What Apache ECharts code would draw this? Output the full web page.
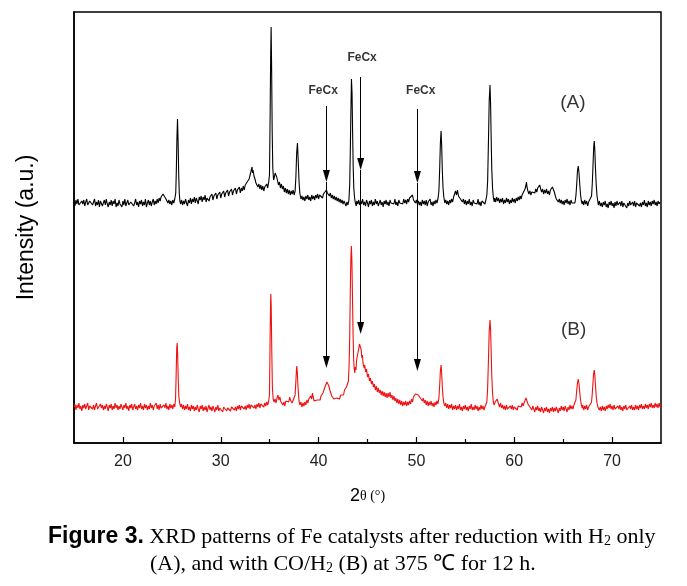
<!DOCTYPE html>
<html>
<head>
<meta charset="utf-8">
<script src="https://cdn.jsdelivr.net/npm/echarts@6/dist/echarts.min.js"></script>
<style>html,body{margin:0;padding:0;background:#fff}#c{width:687px;height:586px}</style>
</head>
<body>
<div id="c"></div>
<script>
// ---- data: [2θ (degrees), intensity (a.u.)] ----
var patternA = [[15.0,241],[15.1,237],[15.2,243],[15.3,239],[15.4,244],[15.5,238],[15.6,240],[15.7,236],[15.8,242],[15.9,239],[16.0,243],[16.1,237],[16.2,241],[16.3,244],[16.4,238],[16.5,236],[16.6,242],[16.7,240],[16.8,243],[16.9,238],[17.0,239],[17.1,244],[17.2,237],[17.3,241],[17.4,238],[17.5,243],[17.6,236],[17.7,242],[17.8,241],[17.9,237],[18.0,240],[18.1,243],[18.2,238],[18.3,244],[18.4,239],[18.5,236],[18.6,241],[18.7,238],[18.8,243],[18.9,237],[19.0,242],[19.1,239],[19.2,244],[19.3,236],[19.4,240],[19.5,237],[19.6,243],[19.7,239],[19.8,241],[19.9,236],[20.0,242],[20.1,238],[20.2,244],[20.3,237],[20.4,240],[20.5,243],[20.6,238],[20.7,236],[20.8,241],[20.9,239],[21.0,243],[21.1,237],[21.2,240],[21.3,244],[21.4,238],[21.5,241],[21.6,236],[21.7,242],[21.8,239],[21.9,243],[22.0,237],[22.1,241],[22.2,238],[22.3,244],[22.4,236],[22.5,240],[22.6,243],[22.7,238],[22.8,242],[22.9,237],[23.0,241],[23.1,244],[23.2,238],[23.3,242],[23.4,239],[23.5,244],[23.6,240],[23.7,245],[23.8,242],[23.9,246],[24.0,245],[24.1,249],[24.2,247],[24.3,250],[24.4,244],[24.5,246],[24.6,240],[24.7,243],[24.8,239],[24.9,242],[25.0,238],[25.1,243],[25.2,240],[25.3,244],[25.4,250],[25.46,272],[25.52,305],[25.58,324],[25.64,302],[25.7,270],[25.76,250],[25.82,242],[25.9,239],[26.0,243],[26.1,238],[26.2,242],[26.3,239],[26.4,244],[26.5,240],[26.6,237],[26.7,243],[26.8,240],[26.9,245],[27.0,239],[27.1,244],[27.2,241],[27.3,246],[27.4,240],[27.5,245],[27.6,242],[27.7,239],[27.8,246],[27.9,243],[28.0,247],[28.1,241],[28.2,246],[28.3,243],[28.4,248],[28.5,241],[28.6,245],[28.7,247],[28.8,242],[28.9,246],[29.0,244],[29.1,249],[29.2,243],[29.3,247],[29.4,245],[29.5,250],[29.6,244],[29.7,248],[29.8,246],[29.9,251],[30.0,245],[30.1,249],[30.2,247],[30.3,252],[30.4,246],[30.5,250],[30.6,248],[30.7,253],[30.8,247],[30.9,251],[31.0,249],[31.1,254],[31.2,248],[31.3,252],[31.4,250],[31.5,255],[31.6,249],[31.7,253],[31.8,251],[31.9,256],[32.0,250],[32.1,255],[32.2,252],[32.3,257],[32.4,253],[32.5,258],[32.6,256],[32.7,261],[32.8,259],[32.9,264],[33.0,266],[33.1,272],[33.2,276],[33.25,270],[33.3,273],[33.4,267],[33.5,264],[33.6,260],[33.7,262],[33.8,256],[33.9,259],[34.0,254],[34.1,258],[34.2,253],[34.3,257],[34.4,252],[34.5,256],[34.6,254],[34.7,259],[34.8,255],[34.9,261],[34.98,268],[35.05,330],[35.1,385],[35.15,416],[35.2,375],[35.26,310],[35.32,275],[35.4,263],[35.48,266],[35.56,270],[35.64,272],[35.72,266],[35.8,264],[35.9,258],[36.0,261],[36.1,255],[36.2,259],[36.3,254],[36.4,257],[36.5,251],[36.6,255],[36.7,250],[36.8,254],[36.9,249],[37.0,253],[37.1,248],[37.2,252],[37.3,249],[37.4,253],[37.5,248],[37.6,252],[37.68,266],[37.76,290],[37.84,300],[37.92,282],[38.0,262],[38.08,250],[38.2,244],[38.3,247],[38.4,243],[38.5,246],[38.6,242],[38.7,247],[38.8,244],[38.9,248],[39.0,243],[39.1,246],[39.2,242],[39.3,248],[39.4,244],[39.5,247],[39.6,243],[39.7,248],[39.8,245],[39.9,249],[40.0,244],[40.1,248],[40.2,246],[40.3,250],[40.4,245],[40.5,249],[40.6,251],[40.7,248],[40.8,253],[40.9,250],[41.0,252],[41.1,247],[41.2,250],[41.3,245],[41.4,248],[41.5,244],[41.6,247],[41.7,243],[41.8,246],[41.9,242],[42.0,245],[42.1,241],[42.2,244],[42.3,240],[42.4,243],[42.5,239],[42.6,242],[42.7,240],[42.8,237],[42.9,241],[43.0,238],[43.1,243],[43.18,258],[43.24,290],[43.3,330],[43.36,364],[43.42,350],[43.48,310],[43.54,275],[43.6,255],[43.68,245],[43.76,240],[43.85,237],[43.9,242],[44.0,239],[44.1,243],[44.2,238],[44.3,242],[44.4,239],[44.5,244],[44.6,238],[44.7,241],[44.8,237],[44.9,243],[45.0,240],[45.1,236],[45.2,242],[45.3,239],[45.4,243],[45.5,237],[45.6,241],[45.7,238],[45.8,244],[45.9,239],[46.0,242],[46.1,237],[46.2,240],[46.3,243],[46.4,238],[46.5,241],[46.6,236],[46.7,242],[46.8,239],[46.9,243],[47.0,238],[47.1,241],[47.2,237],[47.3,243],[47.4,240],[47.5,238],[47.6,242],[47.7,239],[47.8,244],[47.9,238],[48.0,241],[48.1,237],[48.2,243],[48.3,240],[48.4,238],[48.5,242],[48.6,239],[48.7,244],[48.8,240],[48.9,243],[49.0,239],[49.1,244],[49.2,241],[49.3,245],[49.4,247],[49.5,244],[49.6,248],[49.7,243],[49.8,245],[49.9,240],[50.0,243],[50.1,239],[50.2,242],[50.3,238],[50.4,241],[50.5,237],[50.6,243],[50.7,239],[50.8,242],[50.9,238],[51.0,243],[51.1,237],[51.2,241],[51.3,239],[51.4,244],[51.5,238],[51.6,241],[51.7,237],[51.8,242],[51.9,239],[52.0,243],[52.1,240],[52.2,244],[52.3,252],[52.38,275],[52.45,300],[52.52,312],[52.58,298],[52.65,272],[52.72,255],[52.8,246],[52.9,240],[53.0,243],[53.1,239],[53.2,242],[53.3,238],[53.4,243],[53.5,240],[53.6,244],[53.7,241],[53.8,246],[53.9,249],[54.0,252],[54.1,248],[54.2,253],[54.3,247],[54.4,249],[54.5,244],[54.6,246],[54.7,241],[54.8,244],[54.9,239],[55.0,243],[55.1,238],[55.2,242],[55.3,239],[55.4,244],[55.5,238],[55.6,241],[55.7,237],[55.8,243],[55.9,240],[56.0,238],[56.1,242],[56.2,239],[56.3,244],[56.4,238],[56.5,241],[56.6,237],[56.7,242],[56.8,240],[56.9,244],[57.0,239],[57.1,243],[57.2,248],[57.28,262],[57.36,300],[57.44,342],[57.52,358],[57.58,340],[57.64,305],[57.7,275],[57.78,255],[57.86,246],[57.95,241],[58.0,245],[58.1,241],[58.2,246],[58.3,242],[58.4,245],[58.5,240],[58.6,244],[58.7,241],[58.8,245],[58.9,239],[59.0,243],[59.1,240],[59.2,245],[59.3,241],[59.4,244],[59.5,239],[59.6,243],[59.7,240],[59.8,245],[59.9,241],[60.0,244],[60.1,240],[60.2,245],[60.3,242],[60.4,246],[60.5,243],[60.6,247],[60.7,244],[60.8,248],[60.9,246],[61.0,250],[61.1,254],[61.2,258],[61.25,261],[61.3,256],[61.4,252],[61.5,249],[61.6,252],[61.7,248],[61.8,251],[61.9,249],[62.0,253],[62.1,250],[62.2,254],[62.3,251],[62.4,255],[62.5,253],[62.6,258],[62.7,254],[62.8,251],[62.9,254],[63.0,249],[63.1,253],[63.2,250],[63.3,254],[63.4,249],[63.5,252],[63.6,248],[63.7,253],[63.8,251],[63.9,256],[64.0,257],[64.1,251],[64.2,247],[64.3,244],[64.4,246],[64.5,241],[64.6,244],[64.7,240],[64.8,243],[64.9,239],[65.0,242],[65.1,238],[65.2,243],[65.3,240],[65.4,244],[65.5,239],[65.6,242],[65.7,238],[65.8,243],[65.9,240],[66.0,238],[66.1,242],[66.2,240],[66.3,247],[66.38,258],[66.46,272],[66.54,277],[66.62,270],[66.7,258],[66.78,248],[66.86,242],[66.95,239],[67.0,242],[67.1,238],[67.2,243],[67.3,239],[67.4,242],[67.5,237],[67.6,241],[67.7,239],[67.8,243],[67.9,247],[67.98,260],[68.06,280],[68.12,296],[68.18,302],[68.24,292],[68.3,275],[68.38,258],[68.46,247],[68.55,241],[68.6,238],[68.7,242],[68.8,237],[68.9,240],[69.0,236],[69.1,241],[69.2,238],[69.3,242],[69.4,236],[69.5,239],[69.6,235],[69.7,241],[69.8,238],[69.9,242],[70.0,237],[70.1,240],[70.2,235],[70.3,241],[70.4,237],[70.5,242],[70.6,238],[70.7,236],[70.8,241],[70.9,237],[71.0,242],[71.1,236],[71.2,240],[71.3,238],[71.4,242],[71.5,235],[71.6,240],[71.7,237],[71.8,242],[71.9,238],[72.0,236],[72.1,241],[72.2,237],[72.3,242],[72.4,236],[72.5,240],[72.6,238],[72.7,242],[72.8,237],[72.9,240],[73.0,236],[73.1,241],[73.2,238],[73.3,243],[73.4,237],[73.5,240],[73.6,236],[73.7,242],[73.8,238],[73.9,241],[74.0,237],[74.1,242],[74.2,239],[74.3,243],[74.4,238],[74.5,241],[74.6,237],[74.7,242],[74.8,239],[74.9,241],[75.0,238]];

var patternB = [[15.0,36],[15.1,39],[15.2,33],[15.3,38],[15.4,35],[15.5,40],[15.6,34],[15.7,37],[15.8,32],[15.9,38],[16.0,35],[16.1,39],[16.2,34],[16.3,36],[16.4,40],[16.5,33],[16.6,37],[16.7,35],[16.8,39],[16.9,34],[17.0,38],[17.1,33],[17.2,37],[17.3,40],[17.4,34],[17.5,36],[17.6,33],[17.7,39],[17.8,35],[17.9,38],[18.0,33],[18.1,37],[18.2,34],[18.3,39],[18.4,36],[18.5,32],[18.6,38],[18.7,35],[18.8,39],[18.9,33],[19.0,37],[19.1,34],[19.2,40],[19.3,35],[19.4,38],[19.5,33],[19.6,37],[19.7,34],[19.8,39],[19.9,36],[20.0,33],[20.1,38],[20.2,35],[20.3,40],[20.4,34],[20.5,37],[20.6,32],[20.7,38],[20.8,35],[20.9,39],[21.0,33],[21.1,36],[21.2,39],[21.3,34],[21.4,37],[21.5,33],[21.6,38],[21.7,35],[21.8,40],[21.9,34],[22.0,37],[22.1,33],[22.2,39],[22.3,35],[22.4,38],[22.5,33],[22.6,37],[22.7,34],[22.8,40],[22.9,35],[23.0,38],[23.1,33],[23.2,37],[23.3,35],[23.4,40],[23.5,34],[23.6,38],[23.7,33],[23.8,39],[23.9,35],[24.0,37],[24.1,33],[24.2,38],[24.3,35],[24.4,40],[24.5,34],[24.6,37],[24.7,33],[24.8,39],[24.9,35],[25.0,38],[25.1,34],[25.2,39],[25.3,36],[25.38,44],[25.44,68],[25.5,95],[25.55,100],[25.6,86],[25.66,62],[25.72,46],[25.8,40],[25.9,36],[26.0,39],[26.1,34],[26.2,38],[26.3,33],[26.4,37],[26.5,34],[26.6,39],[26.7,33],[26.8,36],[26.9,32],[27.0,38],[27.1,34],[27.2,37],[27.3,32],[27.4,36],[27.5,33],[27.6,38],[27.7,34],[27.8,31],[27.9,37],[28.0,34],[28.1,38],[28.2,32],[28.3,36],[28.4,33],[28.5,37],[28.6,31],[28.7,35],[28.8,38],[28.9,33],[29.0,36],[29.1,32],[29.2,37],[29.3,34],[29.4,31],[29.5,36],[29.6,33],[29.7,38],[29.8,32],[29.9,35],[30.0,33],[30.1,37],[30.2,31],[30.3,36],[30.4,34],[30.5,38],[30.6,32],[30.7,35],[30.8,33],[30.9,37],[31.0,32],[31.1,36],[31.2,34],[31.3,38],[31.4,33],[31.5,36],[31.6,32],[31.7,37],[31.8,34],[31.9,38],[32.0,33],[32.1,37],[32.2,35],[32.3,39],[32.4,34],[32.5,37],[32.6,33],[32.7,38],[32.8,35],[32.9,39],[33.0,34],[33.1,38],[33.2,36],[33.3,40],[33.4,35],[33.5,38],[33.6,34],[33.7,39],[33.8,36],[33.9,40],[34.0,35],[34.1,39],[34.2,37],[34.3,41],[34.4,36],[34.5,40],[34.6,37],[34.7,41],[34.8,38],[34.9,42],[34.98,48],[35.04,100],[35.09,140],[35.12,149],[35.16,135],[35.22,90],[35.28,55],[35.36,44],[35.45,41],[35.55,44],[35.65,40],[35.75,45],[35.85,48],[35.95,43],[36.05,46],[36.15,41],[36.25,43],[36.35,38],[36.45,41],[36.55,37],[36.65,42],[36.75,40],[36.85,44],[36.95,41],[37.05,46],[37.12,43],[37.2,45],[37.3,40],[37.4,38],[37.5,42],[37.6,48],[37.68,62],[37.74,74],[37.78,77],[37.83,70],[37.9,55],[38.0,42],[38.1,38],[38.2,41],[38.3,36],[38.4,40],[38.5,37],[38.6,41],[38.7,38],[38.8,43],[38.9,40],[39.0,44],[39.1,42],[39.2,47],[39.3,44],[39.37,50],[39.45,46],[39.55,42],[39.65,44],[39.75,40],[39.85,43],[39.95,41],[40.05,45],[40.15,43],[40.25,47],[40.35,46],[40.45,50],[40.55,52],[40.65,56],[40.75,58],[40.85,61],[40.95,60],[41.05,57],[41.15,53],[41.25,50],[41.35,47],[41.45,49],[41.55,44],[41.65,46],[41.75,42],[41.85,45],[41.95,43],[42.05,47],[42.15,44],[42.25,48],[42.35,46],[42.45,50],[42.55,48],[42.65,53],[42.75,51],[42.85,56],[42.95,55],[43.05,62],[43.12,78],[43.18,105],[43.24,150],[43.3,185],[43.35,197],[43.4,185],[43.46,150],[43.52,112],[43.58,85],[43.64,74],[43.7,70],[43.76,76],[43.82,73],[43.88,82],[43.94,86],[44.0,84],[44.06,92],[44.12,95],[44.18,99],[44.24,101],[44.3,97],[44.36,93],[44.42,85],[44.48,88],[44.54,80],[44.6,82],[44.66,75],[44.72,78],[44.8,71],[44.9,74],[45.0,66],[45.1,69],[45.2,62],[45.3,65],[45.4,59],[45.5,62],[45.6,56],[45.7,59],[45.8,53],[45.9,57],[46.0,51],[46.1,55],[46.2,50],[46.3,53],[46.4,48],[46.5,52],[46.6,47],[46.7,51],[46.8,46],[46.9,50],[47.0,45],[47.1,50],[47.2,46],[47.3,51],[47.4,45],[47.5,48],[47.6,43],[47.7,47],[47.8,42],[47.9,45],[48.0,40],[48.1,44],[48.2,39],[48.3,43],[48.4,38],[48.5,42],[48.6,37],[48.7,41],[48.8,38],[48.9,42],[49.0,37],[49.1,41],[49.2,38],[49.3,42],[49.4,39],[49.5,44],[49.6,41],[49.7,46],[49.8,44],[49.9,49],[50.0,47],[50.1,51],[50.2,48],[50.3,50],[50.4,45],[50.5,47],[50.6,42],[50.7,45],[50.8,40],[50.9,43],[51.0,38],[51.1,42],[51.2,37],[51.3,41],[51.4,38],[51.5,42],[51.6,37],[51.7,40],[51.8,36],[51.9,41],[52.0,38],[52.1,42],[52.2,39],[52.3,45],[52.38,58],[52.45,72],[52.52,78],[52.58,70],[52.65,56],[52.72,46],[52.8,40],[52.9,37],[53.0,40],[53.1,35],[53.2,39],[53.3,34],[53.4,38],[53.5,35],[53.6,39],[53.7,33],[53.8,37],[53.9,34],[54.0,38],[54.1,33],[54.2,37],[54.3,34],[54.4,39],[54.5,33],[54.6,36],[54.7,32],[54.8,37],[54.9,34],[55.0,38],[55.1,33],[55.2,36],[55.3,32],[55.4,37],[55.5,34],[55.6,39],[55.7,33],[55.8,36],[55.9,33],[56.0,38],[56.1,34],[56.2,37],[56.3,32],[56.4,36],[56.5,33],[56.6,38],[56.7,34],[56.8,37],[56.9,33],[57.0,36],[57.1,35],[57.2,41],[57.28,55],[57.36,82],[57.44,112],[57.52,123],[57.58,114],[57.64,92],[57.7,68],[57.78,50],[57.86,41],[57.95,38],[58.05,41],[58.15,39],[58.25,44],[58.3,42],[58.4,39],[58.5,36],[58.6,40],[58.7,35],[58.8,38],[58.9,34],[59.0,37],[59.1,33],[59.2,38],[59.3,34],[59.4,36],[59.5,32],[59.6,37],[59.7,34],[59.8,38],[59.9,33],[60.0,36],[60.1,34],[60.2,38],[60.3,33],[60.4,37],[60.5,35],[60.6,39],[60.7,36],[60.8,40],[60.9,37],[61.0,40],[61.1,42],[61.2,45],[61.3,43],[61.4,39],[61.5,41],[61.6,36],[61.7,38],[61.8,33],[61.9,37],[62.0,34],[62.1,31],[62.2,36],[62.3,33],[62.4,37],[62.5,32],[62.6,35],[62.7,31],[62.8,36],[62.9,33],[63.0,30],[63.1,35],[63.2,32],[63.3,36],[63.4,31],[63.5,34],[63.6,30],[63.7,35],[63.8,32],[63.9,36],[64.0,31],[64.1,35],[64.2,32],[64.3,36],[64.4,33],[64.5,30],[64.6,35],[64.7,32],[64.8,37],[64.9,33],[65.0,36],[65.1,32],[65.2,37],[65.3,34],[65.4,31],[65.5,36],[65.6,33],[65.7,38],[65.8,34],[65.9,37],[66.0,34],[66.1,38],[66.2,37],[66.3,43],[66.38,52],[66.46,60],[66.54,64],[66.62,59],[66.7,50],[66.78,43],[66.86,38],[66.95,35],[67.0,38],[67.1,33],[67.2,37],[67.3,34],[67.4,38],[67.5,33],[67.6,36],[67.7,34],[67.8,38],[67.9,41],[67.98,50],[68.06,62],[68.12,70],[68.18,73],[68.24,68],[68.3,58],[68.38,47],[68.46,40],[68.55,36],[68.6,38],[68.7,33],[68.8,36],[68.9,32],[69.0,37],[69.1,33],[69.2,36],[69.3,32],[69.4,37],[69.5,34],[69.6,38],[69.7,35],[69.8,39],[69.9,34],[70.0,37],[70.1,33],[70.2,38],[70.3,34],[70.4,36],[70.5,32],[70.6,37],[70.7,34],[70.8,38],[70.9,33],[71.0,36],[71.1,32],[71.2,37],[71.3,34],[71.4,38],[71.5,33],[71.6,35],[71.7,32],[71.8,37],[71.9,34],[72.0,38],[72.1,33],[72.2,36],[72.3,33],[72.4,38],[72.5,34],[72.6,37],[72.7,33],[72.8,38],[72.9,35],[73.0,39],[73.1,34],[73.2,37],[73.3,34],[73.4,39],[73.5,35],[73.6,38],[73.7,34],[73.8,39],[73.9,36],[74.0,40],[74.1,35],[74.2,38],[74.3,35],[74.4,40],[74.5,36],[74.6,39],[74.7,35],[74.8,40],[74.9,36],[75.0,38]];

var majorTicks = [20, 30, 40, 50, 60, 70];
var minorTicks = [25, 35, 45, 55, 65];

// FeCx arrows: 2θ position, start level, arrow tip on (A), arrow tip on (B)
var arrowX      = [40.8, 44.3, 50.1];
var arrowStart  = [337, 366, 334];
var arrowTipA   = [261, 273, 260];
var arrowTipB   = [75, 109, 72];
var arrowLabels = [{name:'FeCx', value:[40.47, 352]}, {name:'FeCx', value:[44.45, 385]}, {name:'FeCx', value:[50.44, 352]}];
var curveLabels = [{name:'(A)', value:[66.0, 340]}, {name:'(B)', value:[66.07, 113]}];

var HEAD = 12;
var arrowSegs = [];
for (var i = 0; i < arrowX.length; i++) {
  arrowSegs.push([{coord:[arrowX[i], arrowStart[i]]}, {coord:[arrowX[i], arrowTipA[i] + HEAD/2]}]);
  arrowSegs.push([{coord:[arrowX[i], arrowTipA[i]]}, {coord:[arrowX[i], arrowTipB[i] + HEAD/2]}]);
}

var labelText = {color: '#000', textBorderWidth: 0, textBorderColor: 'transparent', textShadowBlur: 0};

var chart = echarts.init(document.getElementById('c'), null, {renderer:'canvas'});
chart.setOption({
  animation: false,
  backgroundColor: '#fff',
  grid: {left: 74, right: 26, top: 12, bottom: 143, show: true, borderColor: '#000', borderWidth: 1.5, backgroundColor: 'transparent'},
  xAxis: [{
    type: 'value', min: 15, max: 75, position: 'bottom',
    axisLine: {show: true, lineStyle: {color: '#000', width: 1.5}},
    axisTick: {show: true, inside: true, length: 6, customValues: majorTicks, lineStyle: {color: '#000', width: 1.2}},
    axisLabel: {show: true, customValues: majorTicks, margin: 11, color: '#222', fontSize: 16, fontFamily: 'Liberation Sans, Arial, sans-serif'},
    splitLine: {show: false},
    name: '{a|2}{b|θ (°)}', nameLocation: 'middle', nameGap: 44,
    nameTextStyle: {rich: {a: {fontSize: 18, fontFamily: 'Liberation Sans, Arial', color: '#000'}, b: {fontSize: 14, fontFamily: 'Liberation Serif, Times New Roman, serif', color: '#000'}}}
  }, {
    type: 'value', min: 15, max: 75, position: 'bottom',
    axisLine: {show: false},
    axisTick: {show: true, inside: true, length: 4, customValues: minorTicks, lineStyle: {color: '#000', width: 1.2}},
    axisLabel: {show: false},
    splitLine: {show: false}
  }],
  yAxis: {
    type: 'value', min: 0, max: 431,
    axisLine: {show: true, lineStyle: {color: '#000', width: 1.5}},
    axisTick: {show: false}, axisLabel: {show: false}, splitLine: {show: false},
    name: 'Intensity (a.u.)', nameLocation: 'middle', nameGap: 36,
    nameTextStyle: {fontSize: 23, color: '#000', fontFamily: 'Liberation Sans, Arial, sans-serif'}
  },
  series: [{
    name: 'A', type: 'line', data: patternA, showSymbol: false, symbol: 'none',
    lineStyle: {color: '#000', width: 1.1}, silent: true,
    markLine: {
      silent: true, symbol: ['none', 'triangle'], symbolSize: [7, HEAD],
      lineStyle: {color: '#000', width: 1, type: 'solid'}, label: {show: false},
      emphasis: {disabled: true}, data: arrowSegs
    }
  }, {
    name: 'B', type: 'line', data: patternB, showSymbol: false, symbol: 'none',
    lineStyle: {color: '#ee1111', width: 1.1}, silent: true
  }, {
    type: 'scatter', data: arrowLabels, symbolSize: 0, silent: true, itemStyle: {color: '#000'},
    label: Object.assign({show: true, position: 'inside', formatter: '{b}', fontWeight: 'bold', fontSize: 12, fontFamily: 'Liberation Sans, Arial, sans-serif'}, labelText)
  }, {
    type: 'scatter', data: curveLabels, symbolSize: 0, silent: true, itemStyle: {color: '#000'},
    label: Object.assign({show: true, position: 'inside', formatter: '{b}', fontSize: 19, fontFamily: 'Liberation Sans, Arial, sans-serif'}, labelText)
  }],
  graphic: [{
    type: 'text', x: 48, y: 537,
    style: {
      text: '{f|Figure 3.}{t| XRD patterns of Fe catalysts after reduction with H}{s|2}{t| only}',
      verticalAlign: 'middle', align: 'left',
      rich: {
        f: {fontSize: 23, fontWeight: 'bold', fontFamily: 'Liberation Sans, Arial, sans-serif', fill: '#000'},
        t: {fontSize: 22, fontFamily: 'Liberation Serif, Times New Roman, serif', fill: '#000'},
        s: {fontSize: 14, fontFamily: 'Liberation Serif, Times New Roman, serif', fill: '#000', padding: [9, 0, 0, 0]}
      }
    }
  }, {
    type: 'text', x: 150, y: 564,
    style: {
      text: '{t|(A), and with CO/H}{s|2}{t| (B) at 375 ℃ for 12 h.}',
      verticalAlign: 'middle', align: 'left',
      rich: {
        t: {fontSize: 22, fontFamily: 'Liberation Serif, Times New Roman, serif', fill: '#000'},
        s: {fontSize: 14, fontFamily: 'Liberation Serif, Times New Roman, serif', fill: '#000', padding: [9, 0, 0, 0]}
      }
    }
  }]
});
</script>
</body>
</html>
